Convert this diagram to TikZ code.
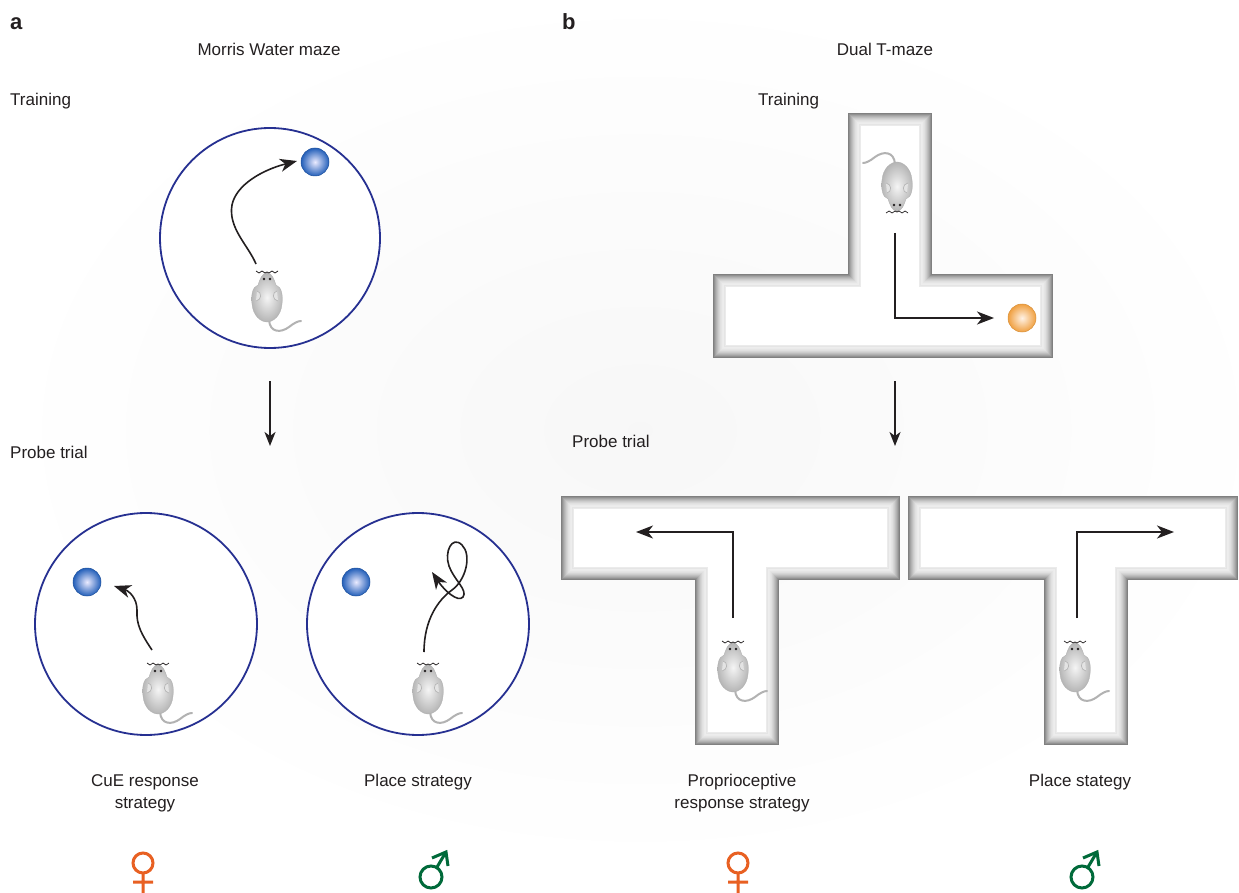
\documentclass[tikz,border=0pt]{standalone}
\usepackage{fontspec}
\setmainfont{Liberation Sans}
\usetikzlibrary{arrows.meta}

\definecolor{ink}{RGB}{35,31,32}
\definecolor{poolblue}{RGB}{38,48,145}
\definecolor{goalblue}{RGB}{35,95,185}
\definecolor{goalorange}{RGB}{240,160,65}
\definecolor{femorange}{RGB}{232,96,34}
\definecolor{malegreen}{RGB}{0,106,58}

\tikzset{
  txt/.style={font=\fontsize{17}{22}\selectfont, text=ink, inner sep=0pt},
  panel/.style={font=\fontsize{22}{24}\selectfont\bfseries, text=ink, inner sep=0pt},
  pool/.style={draw=poolblue, line width=1.8pt, fill=white},
  goal/.style={circle, minimum size=28pt, inner sep=0pt},
  bluegoal/.style={goal, inner color=blue!8!white, outer color=goalblue, draw=goalblue!85!black, line width=0.5pt},
  orangegoal/.style={goal, inner color=orange!10!white, outer color=goalorange, draw=goalorange!90!black, line width=0.5pt},
  traj/.style={ink, line width=1.6pt, -{Stealth[length=17pt,width=13pt,inset=5pt]}},
  down/.style={ink, line width=1.6pt, -{Stealth[length=14pt,width=11pt,inset=4pt]}},
  mouse/.pic={
    \draw[gray!60, line width=2pt, line cap=round]
      (2,48) .. controls (3,61) and (14,61) .. (22,55)
      .. controls (27,51) and (31,49) .. (34,49);
    \shade[inner color=gray!8, outer color=gray!58, draw=gray!62, line width=0.3pt]
      (0,1) .. controls (5,1) and (7,7) .. (9,13)
      .. controls (15,15) and (16,24) .. (15,32)
      .. controls (14,44) and (6,50) .. (0,50)
      .. controls (-6,50) and (-14,44) .. (-15,32)
      .. controls (-16,24) and (-15,15) .. (-9,13)
      .. controls (-7,7) and (-5,1) .. (0,1) -- cycle;
    \foreach \s in {1,-1}
      \draw[gray!60, line width=0.6pt, fill=gray!22] (\s*10,19) .. controls (\s*5,20) and (\s*5,28) .. (\s*11,29);
    \fill[ink] (-3,7) circle[radius=1.3] (3,7) circle[radius=1.3];
    \draw[ink, line width=0.7pt]
      (-11,-1) -- (-8,1) -- (-5,-1) -- (-2,1) -- (0,0) -- (2,1) -- (5,-1) -- (8,1) -- (11,-1);
  },
  femsign/.pic={
    \draw[femorange, line width=3pt] (0,0) circle[radius=10] (0,10) -- (0,32) (-10,19) -- (10,19);
  },
  malesign/.pic={
    \draw[malegreen, line width=3pt] (0,0) circle[radius=11] (5.7,-9.4) -- (15,-25);
    \draw[malegreen, line width=3pt, line join=miter] (1,-19) -- (15,-25) -- (17,-11);
  },
}

\newcommand\mazewalls[1]{%
  \foreach \w/\c in {84/50,82/43,80/36,78/30,76/25,74/20,72/16,70/12,68/10,66/8,64/7,62/10,60/8}
    \draw[line width=\w pt, black!\c, line cap=rect, line join=miter] #1;
  \draw[line width=58pt, white, line cap=rect, line join=miter] #1;}

\begin{document}
\begin{tikzpicture}[x=1pt, y=-1pt]
  \useasboundingbox (0,0) rectangle (1239,893);
  \fill[white] (0,0) rectangle (1239,893);
  \shade[inner color=black!3, outer color=white] (640,430) ellipse [x radius=640, y radius=440];

  % headings
  \node[panel, anchor=base west] (pa) at (10,30) {a};
  \node[panel, anchor=base west] (pb) at (562,30) {b};
  \node[txt, anchor=base] (mwm) at (269,56) {Morris Water maze};
  \node[txt, anchor=base] (dtm) at (885,56) {Dual T-maze};
  \node[txt, anchor=base west] (trainA) at (10,106) {Training};
  \node[txt, anchor=base west] (trainB) at (758,106) {Training};
  \node[txt, anchor=base west] (probeA) at (10,458) {Probe trial};
  \node[txt, anchor=base west] (probeB) at (572,447) {Probe trial};

  % water maze pools
  \draw[pool] (270,238) circle[radius=110];
  \draw[pool] (146,624) circle[radius=111];
  \draw[pool] (418,624) circle[radius=111];

  \node[bluegoal] (goalA) at (315,162) {};
  \node[bluegoal] (goalB) at (87,582) {};
  \node[bluegoal] (goalC) at (356,582) {};

  \pic (m1) at (267,272) {mouse};
  \pic (m2) at (158,664) {mouse};
  \pic (m3) at (428,664) {mouse};

  \draw[traj] (256,264) .. controls (248,245) and (228,228) .. (232,205)
    .. controls (236,185) and (262,170) .. (297,161);
  \draw[traj] (152,650) .. controls (142,635) and (136,625) .. (137,610)
    .. controls (137,598) and (129,591) .. (114,586);
  \draw[traj] (424,652) .. controls (424,620) and (438,600) .. (452,590)
    .. controls (466,580) and (472,555) .. (462,545)
    .. controls (452,535) and (444,552) .. (449,566)
    .. controls (454,580) and (468,590) .. (463,597)
    .. controls (458,603) and (444,590) .. (432,572);

  \coordinate (downA1) at (270,381);
  \coordinate (downA2) at (270,446);
  \draw[down] (downA1) -- (downA2);

  % T-mazes
  \mazewalls{(755,316) -- (1011,316) (890,316) -- (890,155)}
  \mazewalls{(603,538) -- (858,538) (737,538) -- (737,703)}
  \mazewalls{(950,538) -- (1196,538) (1086,538) -- (1086,703)}

  \node[orangegoal] (goalT) at (1022,318) {};
  \pic[rotate=180] (m4) at (897,212) {mouse};
  \pic (m5) at (733,642) {mouse};
  \pic (m6) at (1075,642) {mouse};

  \draw[traj] (895,233) -- (895,318) -- (994,318);
  \draw[traj] (733,618) -- (733,532) -- (636,532);
  \draw[traj] (1077,618) -- (1077,532) -- (1174,532);

  \coordinate (downB1) at (895,381);
  \coordinate (downB2) at (895,446);
  \draw[down] (downB1) -- (downB2);

  % strategies
  \node[txt, anchor=north, align=center] (cue) at (145,774) {CuE response\\strategy};
  \node[txt, anchor=north, align=center] (placeA) at (418,774) {Place strategy};
  \node[txt, anchor=north, align=center] (prop) at (742,774) {Proprioceptive\\response strategy};
  \node[txt, anchor=north, align=center] (placeB) at (1080,774) {Place stategy};

  \pic (f1) at (143,863) {femsign};
  \pic (s1) at (431,877) {malesign};
  \pic (f2) at (738,863) {femsign};
  \pic (s2) at (1082,877) {malesign};
\end{tikzpicture}
\end{document}
